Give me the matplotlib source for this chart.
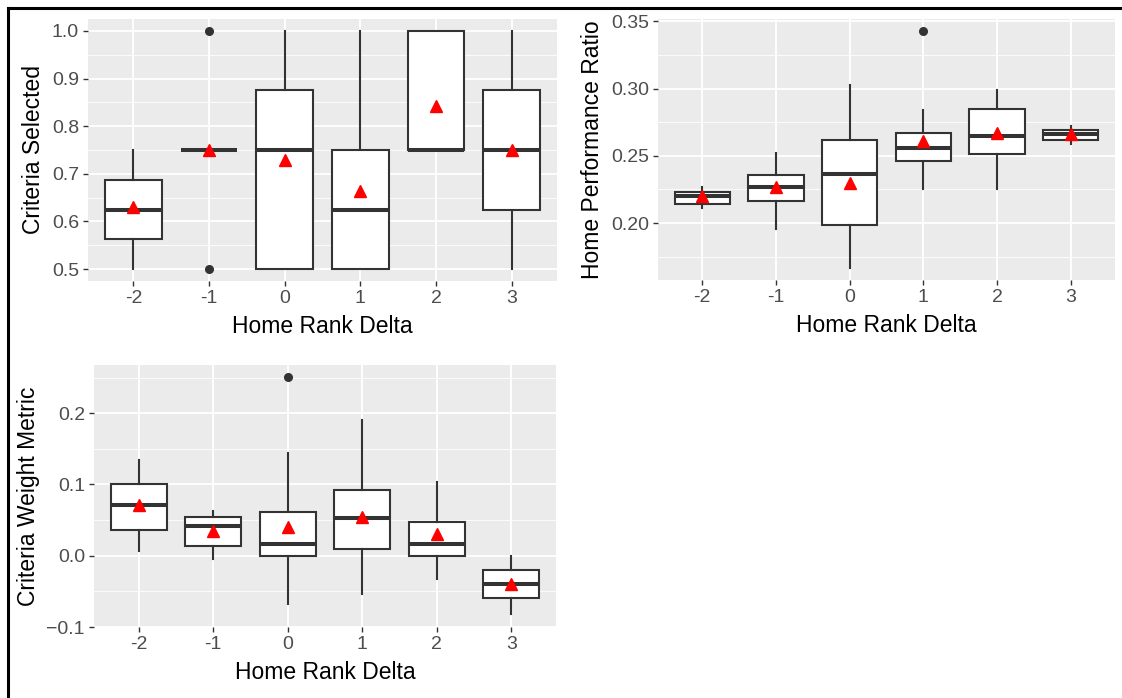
import numpy as np
import matplotlib
matplotlib.use("Agg")
import matplotlib.pyplot as plt
from matplotlib.lines import Line2D

plt.rcParams['font.family'] = ['Liberation Sans', 'DejaVu Sans']

deltas = ['-2', '-1', '0', '1', '2', '3']

# Criteria Selected
cs_whislo = [0.50, 0.75, 0.50, 0.50, 0.75, 0.50]
cs_q1 = [0.5625, 0.75, 0.50, 0.50, 0.75, 0.625]
cs_med = [0.625, 0.75, 0.75, 0.625, 0.75, 0.75]
cs_q3 = [0.6875, 0.75, 0.875, 0.75, 1.00, 0.875]
cs_whishi = [0.75, 0.75, 1.00, 1.00, 1.00, 1.00]
cs_mean = [0.63, 0.75, 0.73, 0.663, 0.843, 0.75]
cs_fliers = [[], [0.5, 1.0], [], [], [], []]

# Home Performance Ratio
hp_whislo = [0.2116, 0.1958, 0.1665, 0.2255, 0.2255, 0.2590]
hp_q1 = [0.2141, 0.2166, 0.1988, 0.2464, 0.2513, 0.2618]
hp_med = [0.2198, 0.2268, 0.2365, 0.2555, 0.2650, 0.2662]
hp_q3 = [0.2228, 0.2359, 0.2620, 0.2667, 0.2848, 0.2694]
hp_whishi = [0.2265, 0.2525, 0.3029, 0.2838, 0.2992, 0.2726]
hp_mean = [0.2200, 0.2270, 0.2298, 0.2612, 0.2670, 0.2660]
hp_fliers = [[], [], [], [0.343], [], []]

# Criteria Weight Metric
cw_whislo = [0.006, -0.005, -0.068, -0.054, -0.032, -0.082]
cw_q1 = [0.036, 0.014, 0.0, 0.009, 0.0, -0.060]
cw_med = [0.071, 0.042, 0.017, 0.053, 0.017, -0.039]
cw_q3 = [0.101, 0.054, 0.061, 0.092, 0.047, -0.020]
cw_whishi = [0.135, 0.063, 0.144, 0.191, 0.104, 0.0]
cw_mean = [0.071, 0.035, 0.041, 0.055, 0.031, -0.039]
cw_fliers = [[], [], [0.251], [], [], []]

W, H = 1122, 698
fig = plt.figure(figsize=(W / 100, H / 100), dpi=100)


def panel(rect_px, whislo, q1, med, q3, whishi, mean, fliers,
          ylabel, major, minor):
    l, t, r, b = rect_px
    ax = fig.add_axes([l / W, 1 - b / H, (r - l) / W, (b - t) / H])
    ax.set_facecolor('#EBEBEB')
    stats = []
    for i in range(len(deltas)):
        stats.append(dict(whislo=whislo[i], q1=q1[i], med=med[i], q3=q3[i],
                          whishi=whishi[i], mean=mean[i],
                          fliers=fliers[i], label=deltas[i]))
    pos = np.arange(1, len(deltas) + 1)
    ax.bxp(stats, positions=pos, widths=0.75, patch_artist=True,
           showcaps=False, showmeans=True,
           boxprops=dict(facecolor='white', edgecolor='#333333', linewidth=1.5),
           whiskerprops=dict(color='#333333', linewidth=1.5),
           medianprops=dict(color='#333333', linewidth=2.9),
           flierprops=dict(marker='o', markerfacecolor='#333333',
                           markeredgecolor='#333333', markersize=5.5),
           meanprops=dict(marker='^', markerfacecolor='red',
                          markeredgecolor='red', markersize=9),
           zorder=3)
    # y range as ggplot: data range plus 5% on each side
    vals = whislo + whishi + [f for fl in fliers for f in fl] + mean
    lo, hi = min(vals), max(vals)
    pad = 0.05 * (hi - lo)
    ax.set_ylim(lo - pad, hi + pad)
    ax.set_xlim(0.4, len(deltas) + 0.6)
    ax.set_yticks(major)
    ax.set_yticks(minor, minor=True)
    ax.set_xticks(pos)
    ax.set_xticklabels(deltas)
    ax.grid(True, which='major', color='white', linewidth=1.3, zorder=0)
    ax.grid(True, which='minor', axis='y', color='white', linewidth=0.6, zorder=0)
    ax.set_axisbelow(True)
    for s in ax.spines.values():
        s.set_visible(False)
    ax.tick_params(which='major', length=3.5, width=1.0, color='#333333',
                   labelsize=14, labelcolor='#4D4D4D', pad=3)
    ax.tick_params(which='minor', length=0)
    ax.set_xlabel('Home Rank Delta', fontsize=16.5, color='black', labelpad=6)
    ax.set_ylabel(ylabel, fontsize=16.5, color='black', labelpad=5)
    return ax


panel((88, 19, 557, 281), cs_whislo, cs_q1, cs_med, cs_q3, cs_whishi,
      cs_mean, cs_fliers, 'Criteria Selected',
      [0.5, 0.6, 0.7, 0.8, 0.9, 1.0],
      [0.55, 0.65, 0.75, 0.85, 0.95])
ax2 = panel((658, 19, 1115, 280), hp_whislo, hp_q1, hp_med, hp_q3, hp_whishi,
            hp_mean, hp_fliers, 'Home Performance Ratio',
            [0.20, 0.25, 0.30, 0.35],
            [0.175, 0.225, 0.275, 0.325])
ax2.yaxis.set_major_formatter(matplotlib.ticker.FormatStrFormatter('%.2f'))
panel((94, 365, 556, 627), cw_whislo, cw_q1, cw_med, cw_q3, cw_whishi,
      cw_mean, cw_fliers, 'Criteria Weight Metric',
      [-0.1, 0.0, 0.1, 0.2],
      [-0.05, 0.05, 0.15, 0.25])

# frame lines along the top and left edge
fig.add_artist(Line2D([7.5 / W, 1.0], [1 - 7.5 / H, 1 - 7.5 / H],
                      color='black', linewidth=2.2))
fig.add_artist(Line2D([7.5 / W, 7.5 / W], [0.0, 1 - 7.5 / H],
                      color='black', linewidth=2.2))

fig.savefig('out.png', dpi=100)
